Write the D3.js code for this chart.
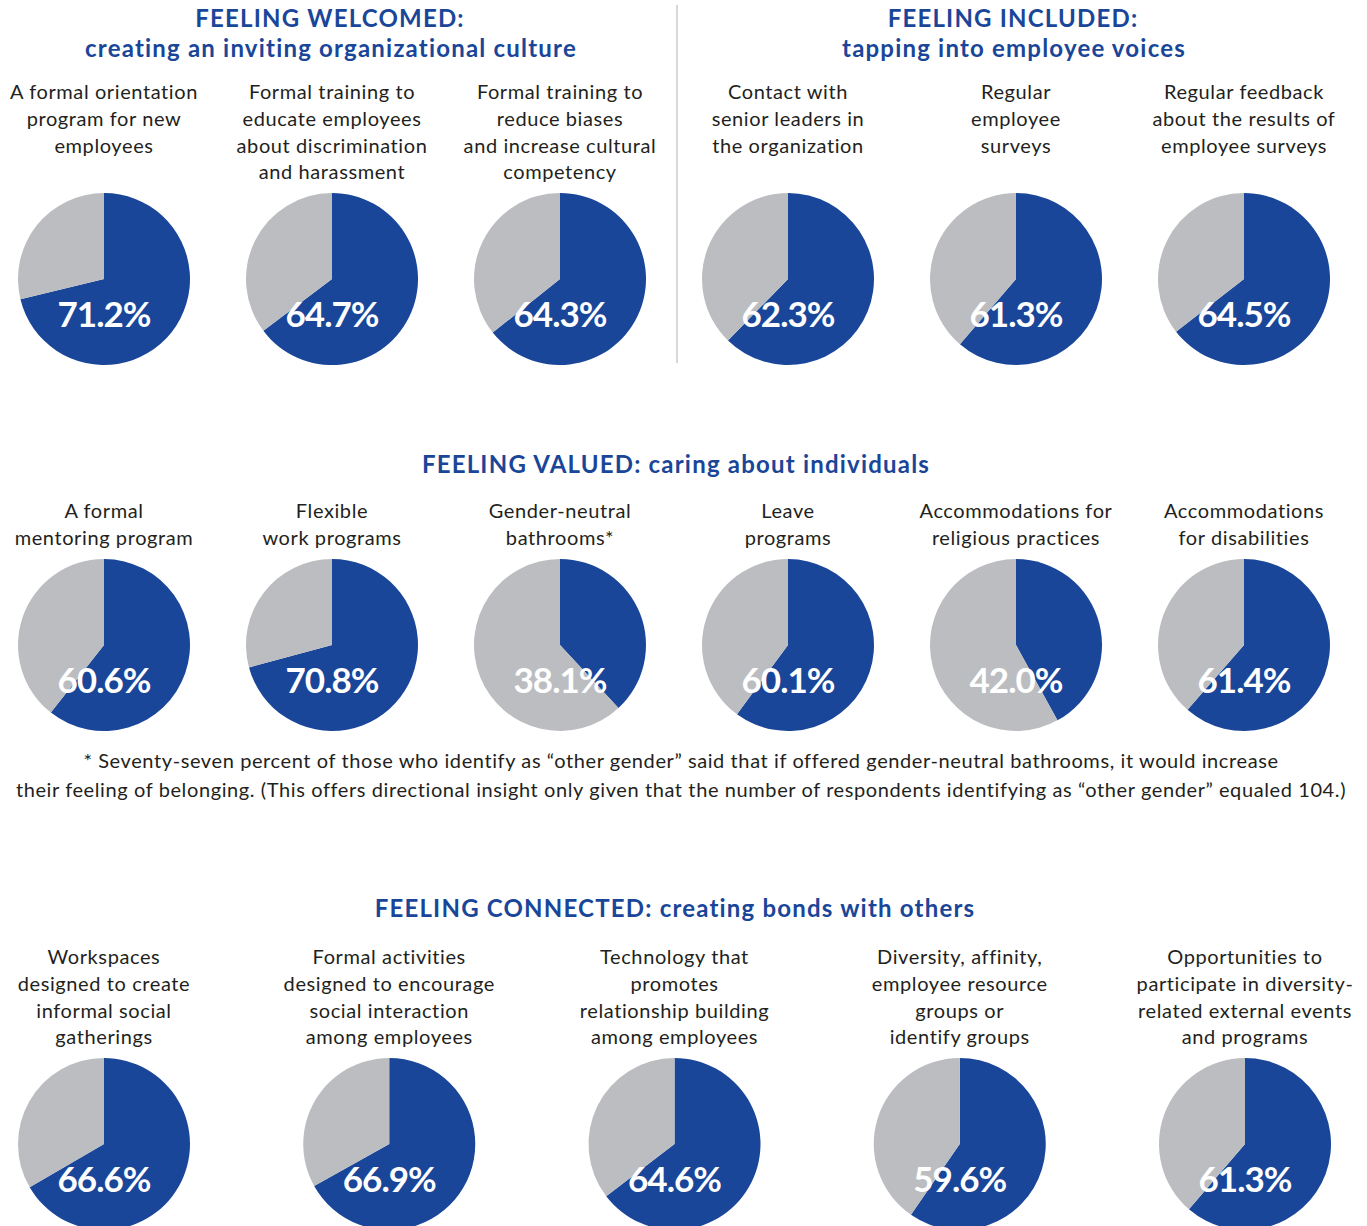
<!DOCTYPE html>
<html>
<head>
<meta charset="utf-8">
<script src="https://cdn.jsdelivr.net/npm/d3@7"></script>
<style>
  body { margin: 0; background: #fff; }
  .title { font-family: Lato, sans-serif; font-weight: 700; font-size: 24px; letter-spacing: 1.2px; fill: #1a4699; text-anchor: middle; }
  .label { font-family: Lato, sans-serif; font-weight: 400; font-size: 20px; letter-spacing: 0.6px; fill: #231f20; text-anchor: middle; }
  .pct { font-family: Lato, sans-serif; font-weight: 700; font-size: 35px; letter-spacing: -1px; fill: #fff; text-anchor: middle; }
  .note { font-family: Lato, sans-serif; font-size: 20px; letter-spacing: 0.6px; fill: #231f20; text-anchor: middle; }
</style>
</head>
<body>
<div id="chart"></div>
<script>
// data
const welcomedLabels = [
  ['A formal orientation', 'program for new', 'employees'],
  ['Formal training to', 'educate employees', 'about discrimination', 'and harassment'],
  ['Formal training to', 'reduce biases', 'and increase cultural', 'competency']
];
const welcomedValues = [71.2, 64.7, 64.3];

const includedLabels = [
  ['Contact with', 'senior leaders in', 'the organization'],
  ['Regular', 'employee', 'surveys'],
  ['Regular feedback', 'about the results of', 'employee surveys']
];
const includedValues = [62.3, 61.3, 64.5];

const valuedLabels = [
  ['A formal', 'mentoring program'],
  ['Flexible', 'work programs'],
  ['Gender-neutral', 'bathrooms*'],
  ['Leave', 'programs'],
  ['Accommodations for', 'religious practices'],
  ['Accommodations', 'for disabilities']
];
const valuedValues = [60.6, 70.8, 38.1, 60.1, 42.0, 61.4];

const connectedLabels = [
  ['Workspaces', 'designed to create', 'informal social', 'gatherings'],
  ['Formal activities', 'designed to encourage', 'social interaction', 'among employees'],
  ['Technology that', 'promotes', 'relationship building', 'among employees'],
  ['Diversity, affinity,', 'employee resource', 'groups or', 'identify groups'],
  ['Opportunities to', 'participate in diversity-', 'related external events', 'and programs']
];
const connectedValues = [66.6, 66.9, 64.6, 59.6, 61.3];

const footnote = [
  '* Seventy-seven percent of those who identify as \u201cother gender\u201d said that if offered gender-neutral bathrooms, it would increase',
  'their feeling of belonging. (This offers directional insight only given that the number of respondents identifying as \u201cother gender\u201d equaled 104.)'
];

const width = 1367, height = 1226, radius = 86, lineH = 26.8;
const blue = '#1a4699', grey = '#bcbdc0';

const svg = d3.select('#chart').append('svg')
  .attr('width', width)
  .attr('height', height);

// six-across and five-across column positions
const x6 = d3.scalePoint().domain(d3.range(6)).range([104, 1244]);
const x5 = d3.scalePoint().domain(d3.range(5)).range([104, 1245]);

const pie = d3.pie().sort(null).value(d => d);
const arc = d3.arc().innerRadius(0).outerRadius(radius);

function drawRow(labels, values, xs, offset, labelTop, cy) {
  labels.forEach((lines, i) => {
    const cx = xs(i + offset);
    const g = svg.append('g');

    g.selectAll('text.label')
      .data(lines)
      .enter()
      .append('text')
      .attr('class', 'label')
      .attr('x', cx)
      .attr('y', (d, j) => labelTop + j * lineH)
      .attr('dy', '0.35em')
      .text(d => d);

    const pg = g.append('g').attr('transform', `translate(${cx},${cy})`);
    pg.selectAll('path')
      .data(pie([values[i], 100 - values[i]]))
      .enter()
      .append('path')
      .attr('d', arc)
      .attr('fill', (d, j) => j == 0 ? blue : grey);

    pg.append('text')
      .attr('class', 'pct')
      .attr('y', 36)
      .attr('dy', '0.35em')
      .text(d3.format('.1f')(values[i]) + '%');
  });
}

// section titles
function title(x, y, t) {
  svg.append('text').attr('class', 'title').attr('x', x).attr('y', y).attr('dy', '0.35em').text(t);
}
title(330, 19, 'FEELING WELCOMED:');
title(331, 49, 'creating an inviting organizational culture');
title(1013, 19, 'FEELING INCLUDED:');
title(1014, 49, 'tapping into employee voices');
title(676, 465, 'FEELING VALUED: caring about individuals');
title(675, 909, 'FEELING CONNECTED: creating bonds with others');

svg.append('line')
  .attr('x1', 677).attr('x2', 677)
  .attr('y1', 5).attr('y2', 363)
  .attr('stroke', '#b0b0b0')
  .attr('stroke-width', 1);

drawRow(welcomedLabels, welcomedValues, x6, 0, 92, 279);
drawRow(includedLabels, includedValues, x6, 3, 92, 279);
drawRow(valuedLabels, valuedValues, x6, 0, 511, 645);
drawRow(connectedLabels, connectedValues, x5, 0, 957, 1144);

svg.selectAll('text.note')
  .data(footnote)
  .enter()
  .append('text')
  .attr('class', 'note')
  .attr('x', 681)
  .attr('y', (d, i) => 761 + i * 29)
  .attr('dy', '0.35em')
  .text(d => d);
</script>
</body>
</html>
